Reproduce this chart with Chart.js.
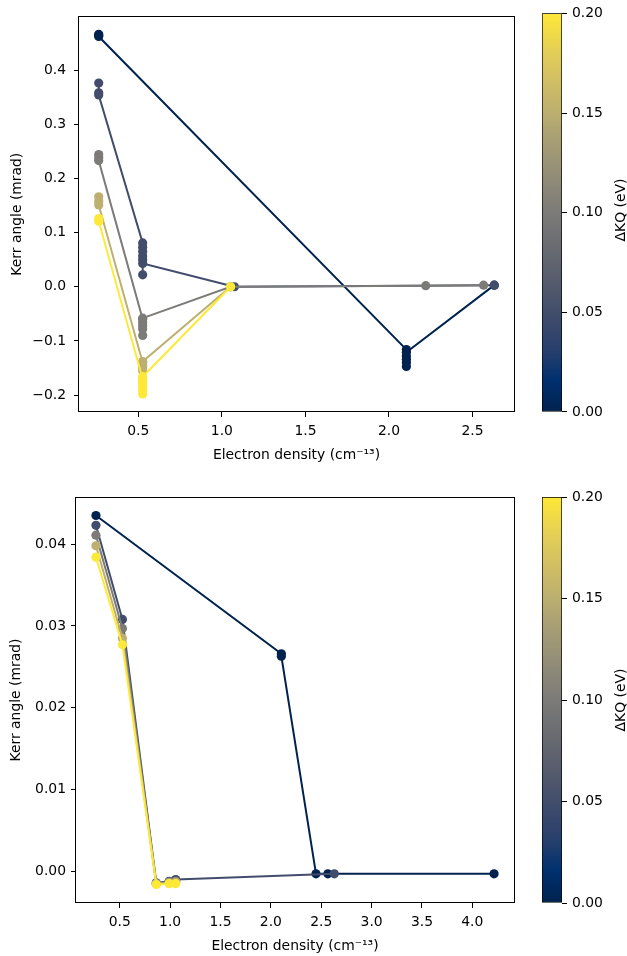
<!DOCTYPE html>
<html><head><meta charset="utf-8">
<script src="https://cdn.jsdelivr.net/npm/chart.js@4.4.1/dist/chart.umd.min.js"></script>
<style>
body{margin:0;background:#fff;width:627px;height:956px;position:relative;overflow:hidden;font-family:"DejaVu Sans";}
canvas{position:absolute;}
.cblabel{position:absolute;font:13.9px "DejaVu Sans";color:#000;transform:translate(-50%,-50%) rotate(-90deg);white-space:nowrap;}
</style></head><body>
<canvas id="topMain" width="627" height="478" style="left:0;top:0"></canvas>
<canvas id="topBar" width="97" height="478" style="left:530px;top:0"></canvas>
<canvas id="botMain" width="627" height="478" style="left:0;top:478px"></canvas>
<canvas id="botBar" width="97" height="478" style="left:530px;top:478px"></canvas>
<div class="cblabel" style="left:620px;top:210px">ΔKQ (eV)</div>
<div class="cblabel" style="left:620px;top:700px">ΔKQ (eV)</div>
<script>
// ΔKQ levels (eV) for each series
const dkqLevels = [0.00, 0.05, 0.10, 0.15, 0.20];

// Panel A (top)
const densA0 = [0.263,0.263,0.263,2.104,2.104,2.104,2.104,2.104,2.104,2.630];
const kerrA0 = [0.466,0.464,0.462,-0.116,-0.128,-0.140,-0.147,-0.134,-0.121,0.003];
const densA1 = [0.263,0.263,0.263,0.526,0.526,0.526,0.526,0.526,0.526,0.526,1.075,2.630];
const kerrA1 = [0.376,0.358,0.354,0.081,0.073,0.065,0.057,0.050,0.022,0.043,0.000,0.003];
const densA2 = [0.263,0.263,0.263,0.526,0.526,0.526,0.526,0.526,0.526,1.052,2.220,2.566];
const kerrA2 = [0.244,0.238,0.233,-0.060,-0.072,-0.090,-0.078,-0.066,-0.058,0.000,0.002,0.003];
const densA3 = [0.263,0.263,0.263,0.526,0.526,0.526,0.526,0.526,1.052];
const kerrA3 = [0.166,0.158,0.151,-0.140,-0.150,-0.155,-0.146,-0.138,0.000];
const densA4 = [0.263,0.263,0.526,0.526,0.526,0.526,0.526,0.526,0.526,1.052];
const kerrA4 = [0.126,0.121,-0.170,-0.180,-0.190,-0.198,-0.186,-0.175,-0.166,0.000];

// Panel B (bottom)
const densB0 = [0.263,2.104,2.104,2.448,2.566,4.216];
const kerrB0 = [0.0435,0.0266,0.0263,-0.0003,-0.0003,-0.0003];
const densB1 = [0.263,0.526,0.862,0.990,1.055,2.630];
const kerrB1 = [0.0423,0.0308,-0.0014,-0.0012,-0.0010,-0.0003];
const densB2 = [0.263,0.526,0.862,0.990,1.055];
const kerrB2 = [0.0411,0.0297,-0.0015,-0.0013,-0.0012];
const densB3 = [0.263,0.526,0.862,0.990,1.055];
const kerrB3 = [0.0398,0.0285,-0.0015,-0.0014,-0.0013];
const densB4 = [0.263,0.526,0.862,0.990,1.055];
const kerrB4 = [0.0384,0.0277,-0.0016,-0.0015,-0.0015];

// Tick labels
const xTicksA = [0.5,1.0,1.5,2.0,2.5];
const yTicksA = [-0.2,-0.1,0.0,0.1,0.2,0.3,0.4];
const xTicksB = [0.5,1.0,1.5,2.0,2.5,3.0,3.5,4.0];
const yTicksB = [0.00,0.01,0.02,0.03,0.04];
const cbTicks = [0.00,0.05,0.10,0.15,0.20];

const xTitle = 'Electron density (cm\u207B\u00B9\u00B3)';
const yTitle = 'Kerr angle (mrad)';

// cividis colormap stops
const cmapStops = [[0,'#00224e'],[0.08,'#00306f'],[0.15,'#253f6d'],[0.2,'#35456c'],[0.25,'#414d6b'],[0.3,'#4f576c'],[0.4,'#666970'],[0.5,'#7c7b78'],[0.6,'#948e77'],[0.7,'#aca273'],[0.75,'#bcaf6f'],[0.8,'#c9b869'],[0.9,'#e3cd58'],[1,'#fee838']];
function hex2rgb(h){return [parseInt(h.slice(1,3),16),parseInt(h.slice(3,5),16),parseInt(h.slice(5,7),16)];}
function cividis(t){
  t=Math.max(0,Math.min(1,t));
  for(let i=1;i<cmapStops.length;i++){
    if(t<=cmapStops[i][0]){
      const [t0,c0]=cmapStops[i-1],[t1,c1]=cmapStops[i];
      const f=(t-t0)/(t1-t0),a=hex2rgb(c0),b=hex2rgb(c1);
      return 'rgb('+a.map((v,k)=>Math.round(v+(b[k]-v)*f)).join(',')+')';
    }
  }
  return cmapStops[cmapStops.length-1][1];
}

const FONT={family:'"DejaVu Sans"',size:13.9};
const TXT='#000';

const frame={id:'frame',afterDatasetsDraw(chart){
  const a=chart.chartArea,c=chart.ctx;
  c.save();c.strokeStyle='#000';c.lineWidth=1;
  c.strokeRect(Math.round(a.left)-0.5,Math.round(a.top)+0.5,Math.round(a.right-a.left)+1,Math.round(a.bottom-a.top)-1);
  c.restore();
}};

function mkDatasets(dens,kerr){
  return dens.map((d,i)=>{
    const col=cividis(dkqLevels[i]/0.2);
    return {label:'ΔKQ='+dkqLevels[i].toFixed(2),
      data:d.map((x,j)=>({x:x,y:kerr[i][j]})),
      showLine:true,borderColor:col,backgroundColor:col,pointBackgroundColor:col,
      pointBorderWidth:0,pointRadius:4.6,pointHoverRadius:4.6,borderWidth:2,tension:0,
      order:dens.length-1-i};
  });
}
const fmtSigned=(dec)=>(v)=>(v<-1e-12?'\u2212':'')+Math.abs(v).toFixed(dec);

function mainChart(id,dens,kerr,lim,xt,yt,geo){
  return new Chart(document.getElementById(id),{
    type:'scatter',
    data:{datasets:mkDatasets(dens,kerr)},
    options:{responsive:false,animation:false,events:[],
      layout:{padding:{left:0,top:geo.top,right:113,bottom:0}},
      plugins:{legend:{display:false},tooltip:{enabled:false}},
      scales:{
        x:{type:'linear',min:lim[0],max:lim[1],
          afterBuildTicks:s=>{s.ticks=xt.map(v=>({value:v}));},
          afterFit:s=>{s.height=geo.xh;},
          ticks:{callback:fmtSigned(1),font:FONT,color:TXT,padding:geo.xpad,maxRotation:0,autoSkip:false},
          grid:{drawOnChartArea:false,drawTicks:true,tickLength:5,tickColor:'#000',tickWidth:1},
          border:{display:false},
          title:{display:true,text:xTitle,font:FONT,color:TXT,padding:{top:0,bottom:geo.xtp}}},
        y:{type:'linear',min:lim[2],max:lim[3],
          afterBuildTicks:s=>{s.ticks=yt.map(v=>({value:v}));},
          afterFit:s=>{s.width=geo.yw;},
          ticks:{callback:fmtSigned(geo.ydec),font:FONT,color:TXT,padding:geo.ypad,autoSkip:false},
          grid:{drawOnChartArea:false,drawTicks:true,tickLength:5,tickColor:'#000',tickWidth:1},
          border:{display:false},
          title:{display:true,text:yTitle,font:FONT,color:TXT,padding:{top:geo.ytp,bottom:0}}}
      }},
    plugins:[frame]
  });
}

function barChart(id,top,bottom){
  return new Chart(document.getElementById(id),{
    type:'bar',
    data:{labels:[''],datasets:[{data:[[cbTicks[0],cbTicks[cbTicks.length-1]]],
      backgroundColor:(ctx)=>{const ch=ctx.chart,a=ch.chartArea;if(!a)return '#7c7b78';
        const g=ch.ctx.createLinearGradient(0,a.bottom,0,a.top);cmapStops.forEach(([t,c])=>g.addColorStop(t,c));return g;},
      borderColor:'#000',borderWidth:1,borderSkipped:false,barPercentage:1,categoryPercentage:1}]},
    options:{responsive:false,animation:false,events:[],
      layout:{padding:{left:12,top:top,right:0,bottom:bottom}},
      plugins:{legend:{display:false},tooltip:{enabled:false}},
      scales:{x:{display:false},
        y:{position:'right',min:0,max:0.2,
          afterBuildTicks:s=>{s.ticks=cbTicks.map(v=>({value:v}));},
          afterFit:s=>{s.width=65;},
          ticks:{callback:v=>v.toFixed(2),font:FONT,color:TXT,padding:5},
          grid:{drawOnChartArea:false,drawTicks:true,tickLength:5,tickColor:'#000',tickWidth:1},
          border:{display:false}}}}
  });
}

mainChart('topMain',[densA0,densA1,densA2,densA3,densA4],[kerrA0,kerrA1,kerrA2,kerrA3,kerrA4],
  [0.145,2.748,-0.2312,0.4992],xTicksA,yTicksA,{top:7,xh:66,yw:79,xpad:6,ypad:8,xtp:14.6,ytp:8.6,ydec:1});
mainChart('botMain',[densB0,densB1,densB2,densB3,densB4],[kerrB0,kerrB1,kerrB2,kerrB3,kerrB4],
  [0.065,4.414,-0.00386,0.04576],xTicksB,yTicksB,{top:19,xh:53,yw:76,xpad:6,ypad:5,xtp:1.6,ytp:8.3,ydec:2});
barChart('topBar',7,66);
barChart('botBar',19,53);
</script>
</body></html>
